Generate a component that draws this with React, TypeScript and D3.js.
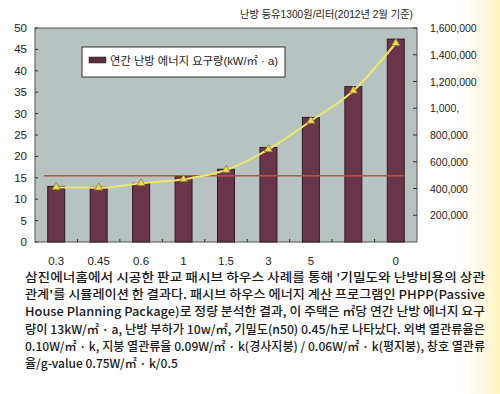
import React from "react";
import * as d3 from "d3";

const categories = ["0.3", "0.45", "0.6", "1", "1.5", "3", "5", "", "0"];
const demand = [13, 12.8, 13.7, 15.3, 17, 22.1, 29.1, 36.3, 47.4];
const heatingCost = [409000, 406000, 439000, 469000, 538000, 693000, 905000, 1131000, 1486000];
const referenceLevel = 15.5;
const leftTicks = [0, 5, 10, 15, 20, 25, 30, 35, 40, 45, 50];
const rightTicks = [200000, 400000, 600000, 800000, 1000000, 1200000, 1400000, 1600000];
const rightTickLabels = ["200,000", "400,000", "600,000", "800,000", "1,000,", "1,200,000", "1,400,000", "1,600,000"];

const title = "난방 등유1300원/리터(2012년 2월 기준)";
const legendLabel = "연간 난방 에너지 요구량(kW/㎡ · a)";
const captionLines = [
  "삼진에너홈에서 시공한 판교 패시브 하우스 사례를 통해 '기밀도와 난방비용의 상관",
  "관계'를 시뮬레이션 한 결과다. 패시브 하우스 에너지 계산 프로그램인 PHPP(Passive",
  "House Planning Package)로 정량 분석한 결과, 이 주택은 ㎡당 연간 난방 에너지 요구",
  "량이 13kW/㎡ · a, 난방 부하가 10w/㎡, 기밀도(n50) 0.45/h로 나타났다. 외벽 열관류율은",
  "0.10W/㎡ · k, 지붕 열관류율 0.09W/㎡ · k(경사지붕) / 0.06W/㎡ · k(평지붕), 창호 열관류",
  "율/g-value 0.75W/㎡ · k/0.5",
];

const width = 500;
const height = 394;
const plot = { left: 35, right: 417, top: 28, bottom: 242 };
const font = "'Liberation Sans', Arial, 'Noto Sans CJK KR', sans-serif";

export default function App() {
  const x = d3
    .scaleBand<number>()
    .domain(d3.range(categories.length))
    .range([plot.left, plot.right])
    .paddingInner(0.6)
    .paddingOuter(0.3);
  const yLeft = d3.scaleLinear().domain([0, 50]).range([plot.bottom, plot.top]);
  const yRight = d3.scaleLinear().domain([0, 1600000]).range([plot.bottom, plot.top]);

  const line = d3
    .line<number>()
    .x((_, i) => x(i)! + x.bandwidth() / 2)
    .y((d) => yRight(d))
    .curve(d3.curveMonotoneX);

  const tri = d3.symbol(d3.symbolTriangle, 28)();
  const step = x.step();
  const boundaries = d3.range(1, categories.length).map((i) => x(i)! - (step - x.bandwidth()) / 2);

  return (
    <svg
      width={width}
      height={height}
      style={{ position: "absolute", left: 0, top: 0, background: "#fff" }}
      fontFamily={font}
    >
      <defs>
        <linearGradient id="edge" x1="0" x2="1" y1="0" y2="0">
          <stop offset="0" stopColor="#fffbe8" stopOpacity={0} />
          <stop offset="1" stopColor="#fff3b8" stopOpacity={0.9} />
        </linearGradient>
      </defs>
      <rect x={0} y={0} width={width} height={height} fill="#fff" />
      <rect x={455} y={0} width={45} height={height} fill="url(#edge)" />

      <text x={413} y={18} textAnchor="end" fontSize={10.5} fill="#222" textLength={173} lengthAdjust="spacingAndGlyphs">
        {title}
      </text>

      {/* plot area */}
      <rect
        x={plot.left}
        y={plot.top}
        width={plot.right - plot.left}
        height={plot.bottom - plot.top}
        fill="#b6c3c1"
        stroke="#555"
        strokeWidth={1}
      />

      {/* left axis */}
      {leftTicks.map((t) => (
        <g key={"l" + t}>
          <line x1={plot.left} x2={plot.left + 3} y1={yLeft(t)} y2={yLeft(t)} stroke="#333" />
          <text x={27} y={yLeft(t) + 4} textAnchor="end" fontSize={11.5} fill="#222">
            {t}
          </text>
        </g>
      ))}

      {/* right axis */}
      {rightTicks.map((t, i) => (
        <g key={"r" + t}>
          <line x1={plot.right - 4} x2={plot.right} y1={yRight(t)} y2={yRight(t)} stroke="#333" />
          <text x={430} y={yRight(t) + 4} fontSize={10.5} fill="#222">
            {rightTickLabels[i]}
          </text>
        </g>
      ))}

      {/* x ticks & labels */}
      {boundaries.map((b, i) => (
        <line key={"b" + i} x1={b} x2={b} y1={plot.bottom} y2={plot.bottom - 3} stroke="#333" />
      ))}
      {categories.map((c, i) => (
        <text key={"c" + i} x={x(i)! + x.bandwidth() / 2} y={265} textAnchor="middle" fontSize={11.5} fill="#222">
          {c}
        </text>
      ))}

      {/* bars */}
      {demand.map((d, i) => (
        <rect
          key={"bar" + i}
          x={x(i)}
          y={yLeft(d)}
          width={x.bandwidth()}
          height={plot.bottom - yLeft(d)}
          fill="#6b3549"
          stroke="#2f1b24"
          strokeWidth={1}
        />
      ))}

      {/* reference line */}
      <line
        x1={x(0)! - 4}
        x2={x(categories.length - 1)! + x.bandwidth()}
        y1={yLeft(referenceLevel)}
        y2={yLeft(referenceLevel)}
        stroke="#b9543c"
        strokeWidth={1.5}
      />

      {/* cost line */}
      <path d={line(heatingCost) ?? ""} fill="none" stroke="#ece66e" strokeWidth={2} />
      {heatingCost.map((v, i) => (
        <path
          key={"m" + i}
          d={tri ?? ""}
          transform={`translate(${x(i)! + x.bandwidth() / 2},${yRight(v)})`}
          fill="#e8dc52"
          stroke="#8c7d2c"
          strokeWidth={0.8}
        />
      ))}

      {/* legend */}
      <rect x={82} y={47} width={203} height={30} fill="#fff" stroke="#333" strokeWidth={1} />
      <rect x={89} y={57} width={17} height={6} fill="#5a3040" stroke="#2f1b24" strokeWidth={0.5} />
      <text x={110} y={64.5} fontSize={11} fill="#222" textLength={168} lengthAdjust="spacingAndGlyphs">
        {legendLabel}
      </text>

      {/* caption */}
      {captionLines.map((l, i) => (
        <text
          key={"cap" + i}
          x={25}
          y={282 + i * 17.2}
          fontSize={12}
          fontWeight={500}
          fill="#1a1a1a"
          fontFamily="'Noto Sans CJK KR', 'Liberation Sans', sans-serif"
          textLength={i < captionLines.length - 1 ? 460 : undefined}
          lengthAdjust="spacingAndGlyphs"
        >
          {l}
        </text>
      ))}
    </svg>
  );
}
